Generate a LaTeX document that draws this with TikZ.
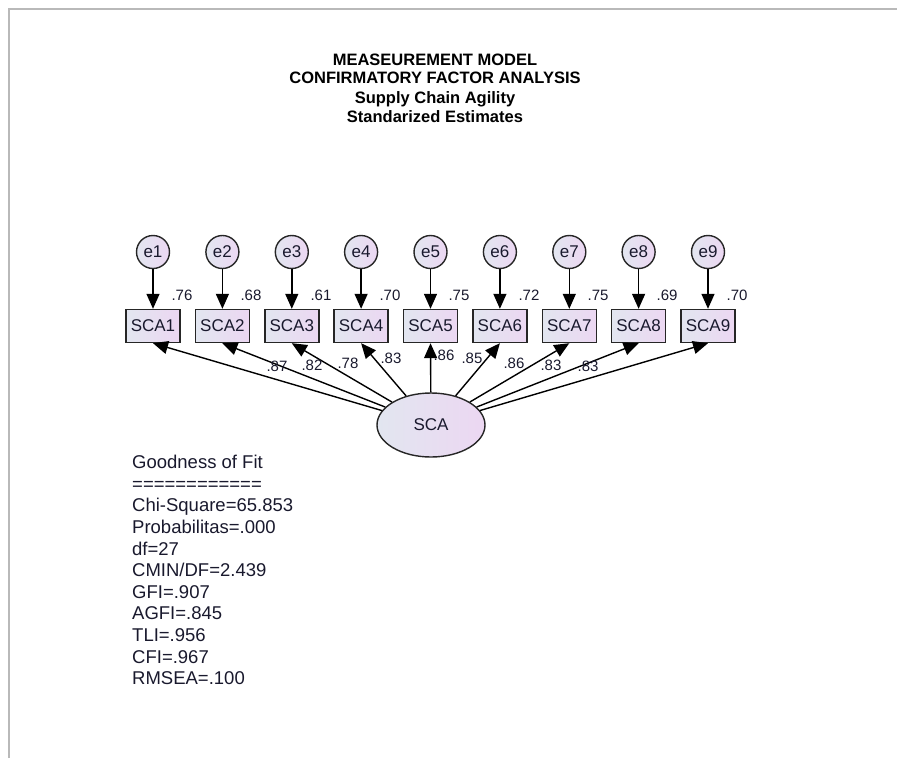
\documentclass[tikz,border=0pt]{standalone}
\usepackage{fontspec}
\setmainfont{Liberation Sans}
\usepackage{xcolor}
\usepackage{tikz}
\usetikzlibrary{arrows.meta,positioning,shapes.geometric}

\definecolor{amosleft}{RGB}{226,230,240}
\definecolor{amosright}{RGB}{236,215,242}
\definecolor{amostext}{RGB}{25,25,45}

\begin{document}
\begin{tikzpicture}[
  x=1pt, y=-1pt,
  obsvar/.style={
    draw, rectangle, line width=1.4pt, draw=black!85,
    left color=amosleft, right color=amosright,
    minimum width=54pt, minimum height=33pt, inner sep=0pt,
    font=\fontsize{17}{19}\selectfont, text=amostext
  },
  errvar/.style={
    draw, circle, line width=1.4pt, draw=black!85,
    left color=amosleft, right color=amosright,
    minimum size=33pt, inner sep=0pt,
    font=\fontsize{17}{19}\selectfont, text=amostext
  },
  latvar/.style={
    draw, ellipse, line width=1.4pt, draw=black!85,
    left color=amosleft, right color=amosright,
    minimum width=108pt, minimum height=64pt, inner sep=0pt,
    font=\fontsize{17}{19}\selectfont, text=amostext
  },
  est/.style={font=\fontsize{15}{16}\selectfont, text=amostext, inner sep=0pt},
  ttl/.style={font=\bfseries\fontsize{16.5}{18}\selectfont, inner sep=0pt},
  arr/.style={-{Triangle[length=15pt,width=13pt]}, line width=1.4pt},
]
\useasboundingbox (0,0) rectangle (897,758);

%% ── frame ───────────────────────────────────────────────────────────────────
\draw[gray!55, line width=2pt] (9,758) -- (9,9) -- (897,9);

%% ── title ───────────────────────────────────────────────────────────────────
\node[ttl] (t1) at (435, 60)  {MEASEUREMENT MODEL};
\node[ttl] (t2) at (435, 78)  {CONFIRMATORY FACTOR ANALYSIS};
\node[ttl] (t3) at (435, 99)  {Supply Chain Agility};
\node[ttl] (t4) at (435, 117) {Standarized Estimates};

%% ── error terms ─────────────────────────────────────────────────────────────
\node[errvar] (e1) at (153.0, 252) {e1};
\node[errvar] (e2) at (222.4, 252) {e2};
\node[errvar] (e3) at (291.8, 252) {e3};
\node[errvar] (e4) at (361.1, 252) {e4};
\node[errvar] (e5) at (430.5, 252) {e5};
\node[errvar] (e6) at (499.9, 252) {e6};
\node[errvar] (e7) at (569.3, 252) {e7};
\node[errvar] (e8) at (638.6, 252) {e8};
\node[errvar] (e9) at (708.0, 252) {e9};

%% ── indicators ──────────────────────────────────────────────────────────────
\node[obsvar] (sca1) at (153.0, 326) {SCA1};
\node[obsvar] (sca2) at (222.4, 326) {SCA2};
\node[obsvar] (sca3) at (291.8, 326) {SCA3};
\node[obsvar] (sca4) at (361.1, 326) {SCA4};
\node[obsvar] (sca5) at (430.5, 326) {SCA5};
\node[obsvar] (sca6) at (499.9, 326) {SCA6};
\node[obsvar] (sca7) at (569.3, 326) {SCA7};
\node[obsvar] (sca8) at (638.6, 326) {SCA8};
\node[obsvar] (sca9) at (708.0, 326) {SCA9};

%% ── latent factor ───────────────────────────────────────────────────────────
\node[latvar] (sca) at (431, 425) {SCA};

%% ── error paths ─────────────────────────────────────────────────────────────
\draw[arr] (e1) -- (sca1);
\draw[arr] (e2) -- (sca2);
\draw[arr] (e3) -- (sca3);
\draw[arr] (e4) -- (sca4);
\draw[arr] (e5) -- (sca5);
\draw[arr] (e6) -- (sca6);
\draw[arr] (e7) -- (sca7);
\draw[arr] (e8) -- (sca8);
\draw[arr] (e9) -- (sca9);

%% ── loadings ────────────────────────────────────────────────────────────────
\draw[arr] (sca) -- (sca1.south);
\draw[arr] (sca) -- (sca2.south);
\draw[arr] (sca) -- (sca3.south);
\draw[arr] (sca) -- (sca4.south);
\draw[arr] (sca) -- (sca5.south);
\draw[arr] (sca) -- (sca6.south);
\draw[arr] (sca) -- (sca7.south);
\draw[arr] (sca) -- (sca8.south);
\draw[arr] (sca) -- (sca9.south);

%% ── squared multiple correlations ───────────────────────────────────────────
\node[est] (r1) at (182, 295) {.76};
\node[est] (r2) at (251, 295) {.68};
\node[est] (r3) at (321, 295) {.61};
\node[est] (r4) at (390, 295) {.70};
\node[est] (r5) at (459, 295) {.75};
\node[est] (r6) at (529, 295) {.72};
\node[est] (r7) at (598, 295) {.75};
\node[est] (r8) at (667, 295) {.69};
\node[est] (r9) at (737, 295) {.70};

%% ── standardized loadings ───────────────────────────────────────────────────
\node[est] (l1) at (277, 366) {.87};
\node[est] (l2) at (312, 365) {.82};
\node[est] (l3) at (348, 363) {.78};
\node[est] (l4) at (391, 358) {.83};
\node[est] (l5) at (444, 355) {.86};
\node[est] (l6) at (472, 358) {.85};
\node[est] (l7) at (514, 363) {.86};
\node[est] (l8) at (551, 365) {.83};
\node[est] (l9) at (588, 366) {.83};

%% ── fit indices ─────────────────────────────────────────────────────────────
\node[anchor=north west, align=left, inner sep=0pt, text=amostext,
      font=\fontsize{18.5}{21.6}\selectfont] (fit) at (132, 455)
  {Goodness of Fit\\
   ============\\
   Chi-Square=65.853\\
   Probabilitas=.000\\
   df=27\\
   CMIN/DF=2.439\\
   GFI=.907\\
   AGFI=.845\\
   TLI=.956\\
   CFI=.967\\
   RMSEA=.100};

\end{tikzpicture}
\end{document}
